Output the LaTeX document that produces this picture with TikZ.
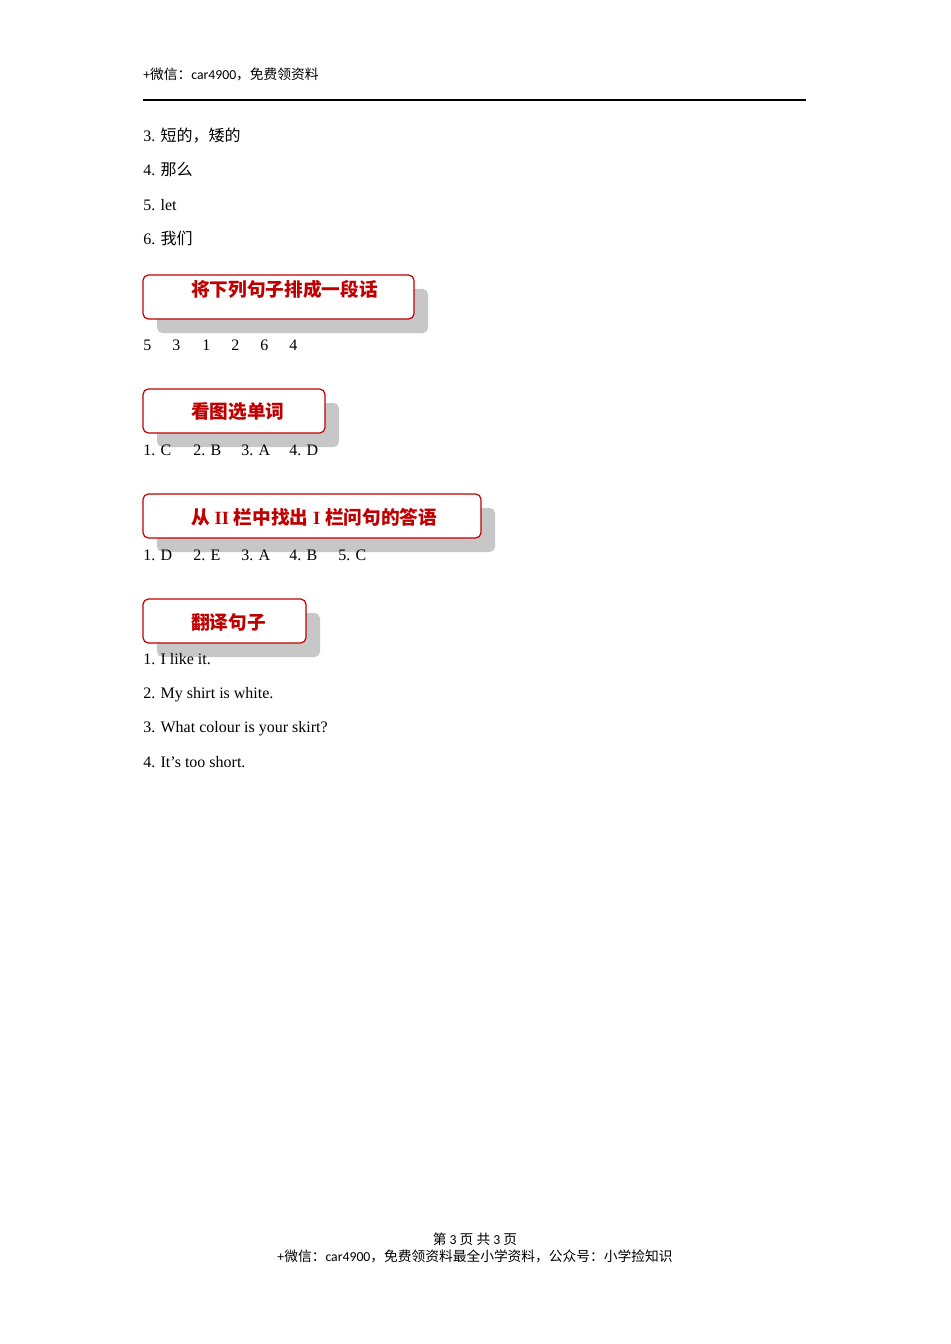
\documentclass[tikz,border=0pt]{standalone}
\usepackage{fontspec}
\setmainfont{Liberation Serif}
\newfontfamily\cjk{Noto Sans CJK SC}
\newfontfamily\hdf{Carlito}
\definecolor{tred}{RGB}{192,0,0}
\tikzset{
 txt/.style={anchor=base west,inner sep=0pt,font=\fontsize{12pt}{14pt}\selectfont},
 small/.style={inner sep=0pt,anchor=base,font=\fontsize{10.3pt}{11pt}\selectfont\hdf},
 tbox/.style={draw=tred,line width=0.9pt,rounded corners=4pt,fill=white},
 shad/.style={fill=black!22,rounded corners=4pt},
 ttl/.style={anchor=west,inner sep=0pt,text=tred,font=\fontsize{14pt}{15pt}\selectfont\bfseries}
}
\begin{document}
\begin{tikzpicture}[x=0.75pt,y=-0.75pt]
\useasboundingbox (0,0) rectangle (950,1344);
\node[small,anchor=base west] (hdr) at (143,80) {+{\cjk 微信：}car4900{\cjk ，免费领资料}};
\draw[line width=0.8pt] (143,100) -- (806,100);
\node[txt] (l3) at (143,142) {3. {\cjk 短的，矮的}};
\node[txt] (l4) at (143,176) {4. {\cjk 那么}};
\node[txt] (l5) at (143,211) {5. let};
\node[txt] (l6) at (143,245) {6. {\cjk 我们}};
% box 1
\fill[shad] (157,289) rectangle (428,333);
\draw[tbox] (143,275) rectangle (414,319);
\node[ttl] (t1) at (191,289) {\cjk 将下列句子排成一段话};
\foreach \x/\n in {143/5,172/3,202/1,231/2,260/6,289/4} \node[txt] (o\n) at (\x,350) {\n};
% box 2
\fill[shad] (157,403) rectangle (339,447);
\draw[tbox] (143,389) rectangle (325,433);
\node[ttl] (t2) at (191,412) {\cjk 看图选单词};
\node[txt] (a1) at (143,455) {1. C};
\node[txt] (a2) at (193,455) {2. B};
\node[txt] (a3) at (241,455) {3. A};
\node[txt] (a4) at (289,455) {4. D};
% box 3
\fill[shad] (157,508) rectangle (495,552);
\draw[tbox] (143,494) rectangle (481,538);
\node[ttl] (t3) at (191,517) {{\cjk 从} II {\cjk 栏中找出} I {\cjk 栏问句的答语}};
\node[txt] (b1) at (143,560) {1. D};
\node[txt] (b2) at (193,560) {2. E};
\node[txt] (b3) at (241,560) {3. A};
\node[txt] (b4) at (289,560) {4. B};
\node[txt] (b5) at (338,560) {5. C};
% box 4
\fill[shad] (157,613) rectangle (320,657);
\draw[tbox] (143,599) rectangle (306,643);
\node[ttl] (t4) at (191,622) {\cjk 翻译句子};
\node[txt] (s1) at (143,664) {1. I like it.};
\node[txt] (s2) at (143,698) {2. My shirt is white.};
\node[txt] (s3) at (143,732) {3. What colour is your skirt?};
\node[txt] (s4) at (143,767) {4. It’s too short.};
% footer
\node[small] (f1) at (475,1244) {{\cjk 第} 3 {\cjk 页 共} 3 {\cjk 页}};
\node[small] (f2) at (475,1261) {+{\cjk 微信：}car4900{\cjk ，免费领资料最全小学资料，公众号：小学捡知识}};
\end{tikzpicture}
\end{document}
